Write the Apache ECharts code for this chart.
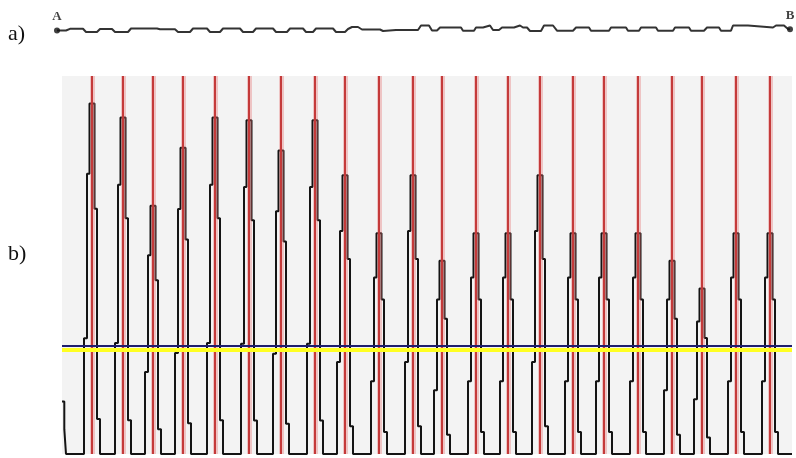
<!DOCTYPE html>
<html><head><meta charset="utf-8">
<script src="https://cdn.jsdelivr.net/npm/echarts@6/dist/echarts.min.js"></script>
<style>html,body{margin:0;padding:0;background:#fff}#c{width:796px;height:458px}</style>
</head><body><div id="c"></div>
<script>
// ---- panel b) : pulse train ----
const RED_X = [30,61,91,121,153,187,219,253,283,317,351,380,414,446,478,511,542,576,610,640,674,708];
const PEAK  = [12.7,12.2,9.0,11.1,12.2,12.1,11.0,12.1,10.1,8.0,10.1,7.0,8.0,8.0,10.1,8.0,8.0,8.0,7.0,6.0,8.0,8.0];
const LEFT_STEP_X  = [-8, -5, -2.5];
const LEFT_STEP_F  = [0.33, 0.8, 1];
const RIGHT_STEP_X = [2.5, 5, 8];
const RIGHT_STEP_F = [1, 0.7, 0.1];
const START_PIECE = [[0,1.9],[2.3,1.9],[2.3,0.9],[4,0.9],[4,0]];
const X_END = 730;
const Y_MAX = 13.7;
const BLUE_LEVEL = 3.91;
const YELLOW_LEVEL = 3.79;

// ---- panel a) : wavy line A–B ----
const WAVE_X = [57,66,70,83,86,97,100,112,115,128,131,157,160,175,178,190,193,207,210,220,223,240,243,253,256,273,276,287,290,303,306,313,316,333,336,345,348,352,358,362,380,383,396,418,421,429,432,437,440,461,463,474,476,483,485,490,493,499,502,514,516,520,523,527,530,541,544,553,557,573,576,589,591,609,611,626,628,639,641,656,658,673,675,689,691,704,707,719,721,731,733,748,750,773,776,784,788,790];
const WAVE_Y = [-0.5,-0.5,1.2,1.2,-2,-2,1,1,-2,-2,1.5,1.5,0.8,0.8,-2,-2,1.5,1.5,-2,-2,1.5,1.5,-2,-2,1.5,1.5,-2,-2,1.5,1.5,-2,-2,1.5,1.5,-2,-2,1,3,3,0.5,0.5,-1,0,0,4.5,4.5,-0.5,-0.5,2.5,2.5,-0.7,-0.7,2.5,2.5,4.5,4.5,0,0,2.5,2.5,4.5,4.5,2.5,2.5,-1,-1,4.5,4.5,-0.7,-0.7,2.5,2.5,-0.7,-0.7,2.5,2.5,-0.7,-0.7,2.5,2.5,-0.7,-0.7,2.5,2.5,-0.7,-0.7,2.5,2.5,-0.7,-0.7,4.5,4.5,2.5,2.5,4.5,4.5,1,0.7];
const END_LABELS = ['A','B'];

// build pulse outline from read peaks + step template
const signal = START_PIECE.slice();
RED_X.forEach((r, i) => {
  const P = PEAK[i];
  let prev = 0;
  for (let k = 0; k < 3; k++) {
    const x = r + LEFT_STEP_X[k];
    signal.push([x, prev]);
    prev = LEFT_STEP_F[k] * P;
    signal.push([x, prev]);
  }
  for (let k = 0; k < 3; k++) {
    const x = r + RIGHT_STEP_X[k];
    signal.push([x, prev]);
    const next = k < 2 ? RIGHT_STEP_F[k + 1] * P : 0;
    signal.push([x, next]);
    prev = next;
  }
});
signal.push([X_END, 0]);

const wave = WAVE_X.map((x, i) => [x, WAVE_Y[i]]);
const ends = [
  {value: wave[0], label: {formatter: END_LABELS[0]}},
  {value: wave[wave.length - 1], label: {formatter: END_LABELS[1]}}
];

const chart = echarts.init(document.getElementById('c'), null, {renderer: 'canvas'});
chart.setOption({
  animation: false,
  backgroundColor: '#fff',
  grid: [
    {left: 57, right: 6, top: 20, height: 20, show: false},
    {left: 62, right: 4, top: 76, bottom: 4, show: true, backgroundColor: '#f3f3f3', borderWidth: 0}
  ],
  xAxis: [
    {type: 'value', gridIndex: 0, min: 57, max: 790, show: false},
    {type: 'value', gridIndex: 1, min: 0, max: X_END, show: false}
  ],
  yAxis: [
    {type: 'value', gridIndex: 0, min: -10, max: 10, show: false},
    {type: 'value', gridIndex: 1, min: 0, max: Y_MAX, show: false}
  ],
  graphic: [
    {type: 'text', left: 8, top: 23, style: {text: 'a)', font: '22px "Liberation Serif"', fill: '#111'}},
    {type: 'text', left: 8, top: 243, style: {text: 'b)', font: '22px "Liberation Serif"', fill: '#111'}}
  ],
  series: [
    {
      type: 'line', xAxisIndex: 0, yAxisIndex: 0, data: wave, symbol: 'none',
      lineStyle: {color: '#333', width: 2}, z: 2
    },
    {
      type: 'scatter', xAxisIndex: 0, yAxisIndex: 0, data: ends, symbolSize: 6,
      itemStyle: {color: '#111'},
      label: {show: true, position: 'top', distance: 4, color: '#111',
              fontFamily: 'Liberation Serif', fontWeight: 'bold', fontSize: 13}, z: 3
    },
    {
      type: 'line', xAxisIndex: 1, yAxisIndex: 1, data: [], z: 1,
      markLine: {silent: true, symbol: ['none','none'], label: {show: false},
        lineStyle: {color: 'rgba(230,110,110,0.35)', width: 5, type: 'solid'},
        data: RED_X.map(x => ({xAxis: x}))}
    },
    {
      type: 'line', xAxisIndex: 1, yAxisIndex: 1, data: [], z: 2,
      markLine: {silent: true, symbol: ['none','none'], label: {show: false},
        lineStyle: {color: '#c43a3a', width: 2, type: 'solid'},
        data: RED_X.map(x => ({xAxis: x}))}
    },
    {
      type: 'line', xAxisIndex: 1, yAxisIndex: 1, data: signal, symbol: 'none',
      lineStyle: {color: '#141414', width: 2}, z: 3
    },
    {
      type: 'line', xAxisIndex: 1, yAxisIndex: 1, data: [], z: 4,
      markLine: {silent: true, symbol: ['none','none'], label: {show: false},
        lineStyle: {color: '#ffff22', width: 4, type: 'solid'},
        data: [{yAxis: YELLOW_LEVEL}]}
    },
    {
      type: 'line', xAxisIndex: 1, yAxisIndex: 1, data: [], z: 5,
      markLine: {silent: true, symbol: ['none','none'], label: {show: false},
        lineStyle: {color: '#1e1e6e', width: 2, type: 'solid'},
        data: [{yAxis: BLUE_LEVEL}]}
    }
  ]
});
</script>
</body></html>
